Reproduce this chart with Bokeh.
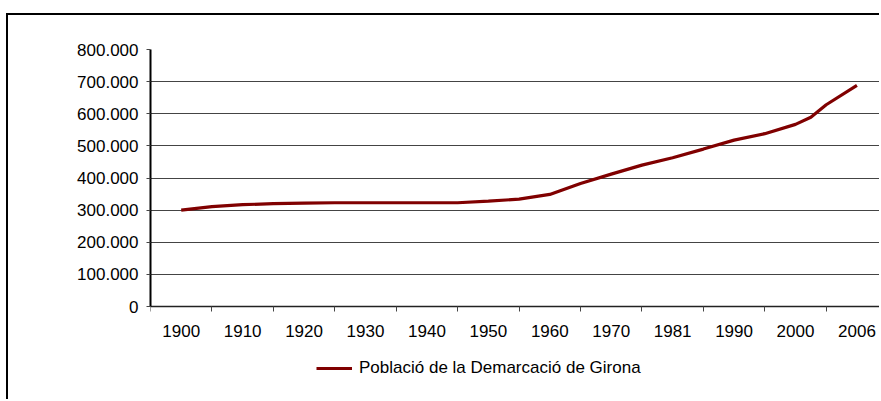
from bokeh.plotting import figure
from bokeh.models import Range1d, FixedTicker, Legend, LegendItem, ColumnDataSource
from bokeh.embed import file_html
from bokeh.resources import INLINE

# ---- data ----
year_labels = ["1900", "1910", "1920", "1930", "1940", "1950",
               "1960", "1970", "1981", "1990", "2000", "2006"]
series_name = "Població de la Demarcació de Girona"
# x position of each observation, in category units (0 = 1900 ... 11 = 2006)
x_pos = [0, 0.5, 1, 1.5, 2, 2.5, 3, 3.5, 4, 4.5, 5, 5.5, 6, 6.5, 7, 7.5,
         8, 8.5, 9, 9.5, 10, 10.25, 10.5, 11]
population = [300000, 311000, 317000, 320000, 322000, 323000, 323000, 323000,
              323000, 323000, 328000, 334000, 349000, 383000, 412000, 440000,
              463000, 490000, 518000, 538000, 567000, 589000, 628000, 688000]
y_ticks = [0, 100000, 200000, 300000, 400000, 500000, 600000, 700000, 800000]
y_tick_labels = ["0", "100.000", "200.000", "300.000", "400.000",
                 "500.000", "600.000", "700.000", "800.000"]

FONT = "Liberation Sans"
FS = "17px"

W, H = 873, 386
TOP, LEFT = 34, 142          # frame offsets inside the figure
ZERO_PX = 291                # y pixel of value 0 inside the figure
y_max = y_ticks[-1]
y_min = -y_max * (H - ZERO_PX) / (ZERO_PX - TOP)

p = figure(width=W, height=H, output_backend="svg", toolbar_location=None,
           x_range=Range1d(-0.5, 11.4), y_range=Range1d(y_min, y_max),
           min_border_left=LEFT, min_border_right=0, min_border_top=TOP,
           min_border_bottom=0, outline_line_color=None,
           background_fill_color="white", border_fill_color="white")
p.styles = {"border-top": "2px solid black", "border-left": "2px solid black",
            "margin-top": "13px", "margin-left": "6px"}

src = ColumnDataSource(dict(x=x_pos, y=population))
r = p.line("x", "y", source=src, line_color="#800000", line_width=3.2)

# x axis (sits on value 0)
n = len(year_labels)
p.xaxis.fixed_location = 0
p.xaxis.ticker = FixedTicker(ticks=list(range(n)),
                             minor_ticks=[i - 0.5 for i in range(n + 1)])
p.xaxis.major_label_overrides = {i: lab for i, lab in enumerate(year_labels)}
p.xaxis.major_tick_out = 0
p.xaxis.major_tick_in = 0
p.xaxis.minor_tick_out = 5
p.xaxis.minor_tick_in = 0
p.xaxis.minor_tick_line_color = "#444444"
p.xaxis.axis_line_color = "#222222"
p.xaxis.axis_line_width = 1.5
p.xaxis.major_label_text_font = FONT
p.xaxis.major_label_text_font_size = FS
p.xaxis.major_label_text_color = "black"
p.xaxis.major_label_standoff = 13

# y axis
p.yaxis.bounds = (0, y_max)
p.yaxis.ticker = FixedTicker(ticks=y_ticks, minor_ticks=[])
p.yaxis.major_label_overrides = {v: lab for v, lab in zip(y_ticks, y_tick_labels)}
p.yaxis.major_tick_out = 4
p.yaxis.major_tick_in = 0
p.yaxis.major_tick_line_color = "#444444"
p.yaxis.axis_line_color = "black"
p.yaxis.axis_line_width = 2
p.yaxis.major_label_text_font = FONT
p.yaxis.major_label_text_font_size = FS
p.yaxis.major_label_text_color = "black"
p.yaxis.major_label_standoff = 8

p.xgrid.visible = False
p.ygrid.ticker = FixedTicker(ticks=y_ticks)
p.ygrid.grid_line_color = "#444444"
p.ygrid.grid_line_width = 1

legend = Legend(items=[LegendItem(label=series_name, renderers=[r])],
                location=(166, 23), orientation="horizontal",
                padding=0, margin=0, border_line_color=None,
                background_fill_alpha=0, glyph_width=36, glyph_height=20,
                label_standoff=7, label_text_font=FONT,
                label_text_font_size=FS, label_text_color="black")
p.add_layout(legend, "center")

open("out.html", "w").write(file_html(p, INLINE))
